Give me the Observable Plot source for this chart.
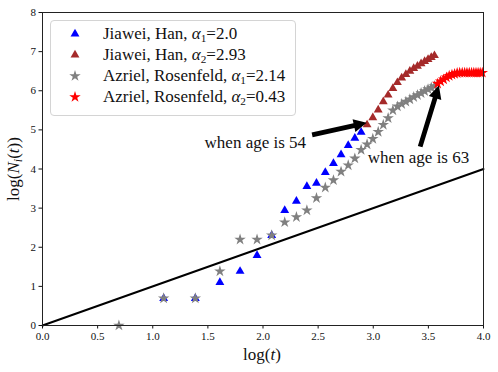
<!DOCTYPE html>
<html>
<head>
<meta charset="utf-8">
<script src="https://cdn.jsdelivr.net/npm/d3@7"></script>
<script src="https://cdn.jsdelivr.net/npm/@observablehq/plot@0.6"></script>
<style>
  html, body { margin: 0; padding: 0; background: #fff; }
  #wrap { position: relative; width: 498px; height: 372px; font-family: "Liberation Serif", "Times New Roman", serif; }
  #legend { position: absolute; left: 50px; top: 20px; width: 244px; height: 94px;
    border: 1px solid #d4d4d4; border-radius: 4px; background: rgba(255,255,255,0.85);
    box-sizing: content-box; }
  .row { position: absolute; left: 0; height: 18px; }
  .row svg { position: absolute; left: 16px; top: 1px; }
  .row span { position: absolute; left: 52px; white-space: nowrap; font-size: 17px; color: #111; line-height: 18px; top: 0; }
  .row sub { font-size: 0.66em; vertical-align: -0.25em; line-height: 0; }
</style>
</head>
<body>
<div id="wrap"></div>
<script>
// ---- data: x = log(t), y = log(N_i(t)) ----
const blueX = [1.099,1.386,1.609,1.792,1.946,2.079,2.197,2.303,2.398,2.485,2.565,2.639,2.708,2.773,2.833,2.890];
const blueY = [0.693,0.693,1.099,1.386,1.792,2.303,2.944,3.178,3.555,3.638,3.912,4.143,4.369,4.605,4.787,4.942];

const brownX = [2.944,2.996,3.045,3.091,3.135,3.178,3.219,3.258,3.296,3.332,3.367,3.401,3.434,3.466,3.497,3.526,3.555];
const brownY = [5.13,5.31,5.51,5.72,5.89,6.06,6.21,6.33,6.42,6.50,6.57,6.63,6.69,6.75,6.80,6.85,6.90];

const grayX = [0.693,1.099,1.386,1.609,1.792,1.946,2.079,2.197,2.303,2.398,2.485,2.565,2.639,2.708,2.773,2.833,2.890,2.944,2.996,3.045,3.091,3.135,3.178,3.219,3.258,3.296,3.332,3.367,3.401,3.434,3.466,3.497,3.526,3.555];
const grayY = [0,0.693,0.693,1.386,2.197,2.197,2.303,2.639,2.773,2.944,3.258,3.526,3.714,3.932,4.094,4.27,4.49,4.63,4.77,4.95,5.13,5.30,5.50,5.60,5.66,5.72,5.78,5.84,5.89,5.94,5.99,6.04,6.08,6.12];

const redX = [3.584,3.611,3.638,3.664,3.689,3.714,3.738,3.761,3.784,3.807,3.829,3.850,3.871,3.892,3.912,3.932,3.951,3.970,3.989];
const redY = [6.18,6.24,6.29,6.34,6.38,6.41,6.43,6.45,6.46,6.46,6.46,6.46,6.46,6.46,6.46,6.46,6.46,6.46,6.46];

const refLine = [0, 4];   // y = x
const xTicks = [0, 0.5, 1, 1.5, 2, 2.5, 3, 3.5, 4];
const yTicks = [0, 1, 2, 3, 4, 5, 6, 7, 8];

const annotations = [
  {text: "when age is 54", tx: 1.47, ty: 4.67, x1: 2.45, y1: 4.86, x2: 2.945, y2: 5.17},
  {text: "when age is 63", tx: 2.95, ty: 4.28, x1: 3.43, y1: 4.56, x2: 3.60, y2: 6.12}
];

const series = [
  {name: "Jiawei, Han, ", sub: "1", val: "2.0", xs: blueX, ys: blueY, color: "#0000ff", symbol: "triangle", r: 3.3},
  {name: "Jiawei, Han, ", sub: "2", val: "2.93", xs: brownX, ys: brownY, color: "#a52a2a", symbol: "triangle", r: 3.3},
  {name: "Azriel, Rosenfeld, ", sub: "1", val: "2.14", xs: grayX, ys: grayY, color: "#808080", symbol: "star", r: 3.6},
  {name: "Azriel, Rosenfeld, ", sub: "2", val: "0.43", xs: redX, ys: redY, color: "#ff0000", symbol: "star", r: 3.6}
];

const toRows = s => s.xs.map((x, i) => ({x, y: s.ys[i]}));

function arrowsMark(index, scales) {
  const {x, y} = scales;
  const g = d3.create("svg:g");
  for (const a of annotations) {
    const x1 = x(a.x1), y1 = y(a.y1), x2 = x(a.x2), y2 = y(a.y2);
    const dx = x2 - x1, dy = y2 - y1, L = Math.hypot(dx, dy);
    const ux = dx / L, uy = dy / L, nx = -uy, ny = ux;
    const hl = 13, hw = 6.5, sw = 2.4;
    const bx = x2 - ux * hl, by = y2 - uy * hl;
    const pts = [
      [x1 + nx * sw, y1 + ny * sw], [bx + nx * sw, by + ny * sw], [bx + nx * hw, by + ny * hw],
      [x2, y2], [bx - nx * hw, by - ny * hw], [bx - nx * sw, by - ny * sw], [x1 - nx * sw, y1 - ny * sw]
    ];
    g.append("path").attr("d", "M" + pts.map(p => p.join(",")).join("L") + "Z").attr("fill", "black");
  }
  return g.node();
}

const FONT = "'Liberation Serif', 'Times New Roman', serif";

const plot = Plot.plot({
  width: 498, height: 372,
  marginLeft: 42, marginRight: 15, marginTop: 12, marginBottom: 47,
  style: {fontFamily: FONT, fontSize: "11px", color: "#111", background: "white"},
  x: {domain: [0, 4]},
  y: {domain: [0, 8]},
  marks: [
    Plot.line(refLine, {x: d => d, y: d => d, stroke: "black", strokeWidth: 2}),
    ...series.map(s => Plot.dot(toRows(s), {x: "x", y: "y", symbol: s.symbol, fill: s.color, r: s.r, stroke: "none"})),
    Plot.text(annotations, {x: "tx", y: "ty", text: "text", textAnchor: "start", fontSize: 17, fontFamily: FONT, fill: "#111"}),
    arrowsMark,
    Plot.axisX({ticks: xTicks, tickFormat: d3.format(".1f"), tickSize: 3.5, tickPadding: 3, label: null, fontFamily: FONT}),
    Plot.axisY({ticks: yTicks, tickFormat: d3.format("d"), tickSize: 3.5, tickPadding: 3, label: null, fontFamily: FONT}),
    Plot.frame({stroke: "#222", strokeWidth: 1})
  ]
});

const wrap = document.getElementById("wrap");
wrap.appendChild(plot);

// axis titles
const svg = d3.select(plot);
const xl = svg.append("text").attr("x", 262).attr("y", 360).attr("text-anchor", "middle")
  .attr("font-size", 17).attr("font-family", FONT).attr("fill", "#111");
xl.append("tspan").text("log(");
xl.append("tspan").attr("font-style", "italic").text("t");
xl.append("tspan").text(")");

const yl = svg.append("text").attr("transform", "translate(19,169) rotate(-90)").attr("text-anchor", "middle")
  .attr("font-size", 17).attr("font-family", FONT).attr("fill", "#111");
yl.append("tspan").text("log(");
yl.append("tspan").attr("font-style", "italic").text("N");
yl.append("tspan").attr("font-style", "italic").attr("font-size", 12).attr("dy", 3).text("i");
yl.append("tspan").attr("dy", -3).text("(");
yl.append("tspan").attr("font-style", "italic").text("t");
yl.append("tspan").text("))");

// legend
const legend = document.createElement("div");
legend.id = "legend";
series.forEach((s, i) => {
  const row = document.createElement("div");
  row.className = "row";
  row.style.top = (4 + i * 21) + "px";
  const sym = s.symbol === "triangle" ? d3.symbolTriangle : d3.symbolStar;
  const path = d3.symbol(sym, Math.PI * s.r * s.r)();
  row.innerHTML = `<svg width="16" height="16" viewBox="-8 -8 16 16"><path d="${path}" fill="${s.color}"/></svg>` +
    `<span>${s.name}<i>α</i><sub>${s.sub}</sub>=${s.val}</span>`;
  legend.appendChild(row);
});
wrap.appendChild(legend);
</script>
</body>
</html>
